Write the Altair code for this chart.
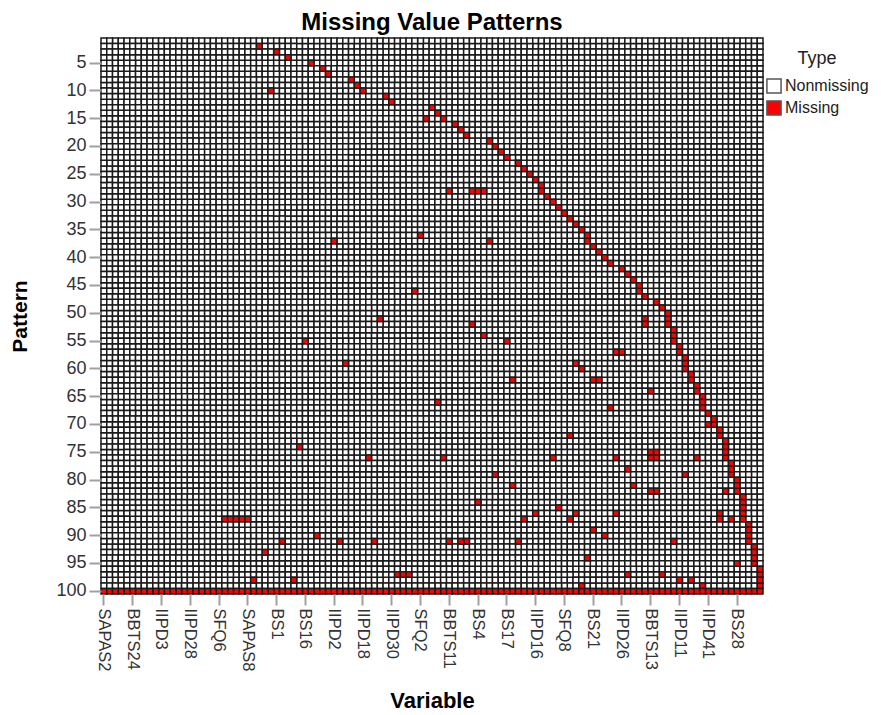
import altair as alt
import pandas as pd

alt.data_transformers.disable_max_rows()

n_cols = 115
n_rows = 100
tick_names = ["SAPAS2","BBTS24","IIPD3","IIPD28","SFQ6","SAPAS8","BS1","BS16","IIPD2","IIPD18","IIPD30","SFQ2",
              "BBTS11","BS4","BS17","IIPD16","SFQ8","BS21","IIPD26","BBTS13","IIPD11","IIPD41","BS28"]
type_names = ["Nonmissing", "Missing"]
type_colors = ["#ffffff", "#ff0000"]

missing = {
 2:[28],3:[31],4:[33],5:[37],6:[39],7:[40],8:[44],9:[45],10:[30,46],11:[50],12:[51],13:[58],14:[59],15:[57,60],
 16:[62],17:[63],18:[64],19:[68],20:[69],21:[70],22:[71],23:[73],24:[74],25:[75],26:[76],27:[77],
 28:[61,65,66,67,77],29:[78],30:[79],31:[80],32:[81],33:[82],34:[83],35:[84],36:[56,85],37:[41,68,85],38:[86],
 39:[87],40:[88],41:[89],42:[91],43:[92],44:[93],45:[94],46:[55,94],47:[95],48:[97],49:[98],50:[99],
 51:[49,95,99],52:[65,95,99],53:[100],54:[67,100],55:[36,71,100],56:[101],57:[90,91,101],58:[102],
 59:[43,83,102],60:[84,102],61:[103],62:[72,86,87,103],63:[104],64:[96,104],65:[105],66:[59,105],67:[89,105],
 68:[106],69:[107],70:[106,107],71:[108],72:[82,108],73:[109],74:[35,109],75:[96,97,109],
 76:[47,60,79,90,96,97,104,109],77:[110],78:[92,110],79:[69,102,110],80:[111],81:[72,93,111],82:[96,97,109,111],
 83:[112],84:[66,112],85:[80,112],86:[76,83,90,108,112],87:[22,23,24,25,26,74,82,108,110,112],88:[113],89:[86,113],
 90:[38,88,113],91:[32,42,48,61,63,64,73,100,113],92:[114],93:[29,114],94:[85,114],95:[111,114],96:[115],
 97:[52,53,54,92,98,115],98:[27,34,101,103,115],99:[84,105,115],100:list(range(1,116)),
}

cols = list(range(1, n_cols + 1))
rows = list(range(1, n_rows + 1))
records = []
for r in rows:
    for c in cols:
        records.append({"c": c, "r": r, "t": type_names[1] if c in missing.get(r, []) else type_names[0]})
df = pd.DataFrame(records)
df["o"] = (df["t"] == "Missing").astype(int)
df = df.sort_values("o")

names_js = "[" + ",".join("'%s'" % s for s in tick_names) + "]"
font = "Liberation Sans"

chart = (
    alt.Chart(df)
    .mark_rect(strokeWidth=1.5, stroke="#1a1a1a")
    .encode(
        x=alt.X("c:O", sort=None, scale=alt.Scale(domain=cols, paddingInner=0, paddingOuter=0),
                axis=alt.Axis(values=cols[::5], labelExpr=names_js + "[floor((datum.value-1)/5)]",
                              labelAngle=90, labelAlign="left", labelBaseline="middle", labelFontSize=16.5,
                              labelColor="#333333", labelPadding=3, labelFont=font,
                              tickSize=11, tickWidth=2, tickColor="#a0a0a0", domain=False, grid=False,
                              title="Variable", titleFont=font, titleFontSize=22, titleFontWeight="bold",
                              titleColor="#000000", titleX=331, titleY=113, titleAnchor="middle", titleAlign="center",
                              titleBaseline="alphabetic")),
        y=alt.Y("r:O", sort=None, scale=alt.Scale(domain=rows, paddingInner=0, paddingOuter=0),
                axis=alt.Axis(values=rows[4::5], labelFontSize=18, labelColor="#333333", labelFont=font, labelPadding=3,
                              labelAngle=0, tickSize=12, tickWidth=2, tickColor="#a0a0a0", domain=False, grid=False,
                              title="Pattern", titleFont=font, titleFontSize=21, titleFontWeight="bold",
                              titleColor="#000000", titleX=-71, titleY=278, titleAnchor="middle", titleAlign="center")),
        fill=alt.Fill("t:N", scale=alt.Scale(domain=type_names, range=type_colors),
                      legend=alt.Legend(title="Type", orient="none", legendX=665, legendY=12, padding=0,
                                        titleFont=font, titleFontSize=18, titleFontWeight="normal", titleColor="#222222",
                                        titleAnchor="middle", titlePadding=10,
                                        labelFont=font, labelFontSize=16, labelColor="#222222", labelOffset=3,
                                        symbolType="square", symbolSize=200, symbolStrokeColor="#555555",
                                        symbolStrokeWidth=1.5, rowPadding=0)),
        order=alt.Order("o:Q"),
    )
    .properties(
        width=662, height=556,
        title=alt.TitleParams("Missing Value Patterns", font=font, fontSize=24, fontWeight="bold", color="#000000",
                              anchor="middle", offset=2),
        autosize=alt.AutoSizeParams(type="none"),
        padding={"left": 93, "top": 30, "right": 110, "bottom": 118},
    )
    .configure_view(stroke=None)
)

chart.save("out.html", embed_options={"renderer": "svg", "actions": False})
